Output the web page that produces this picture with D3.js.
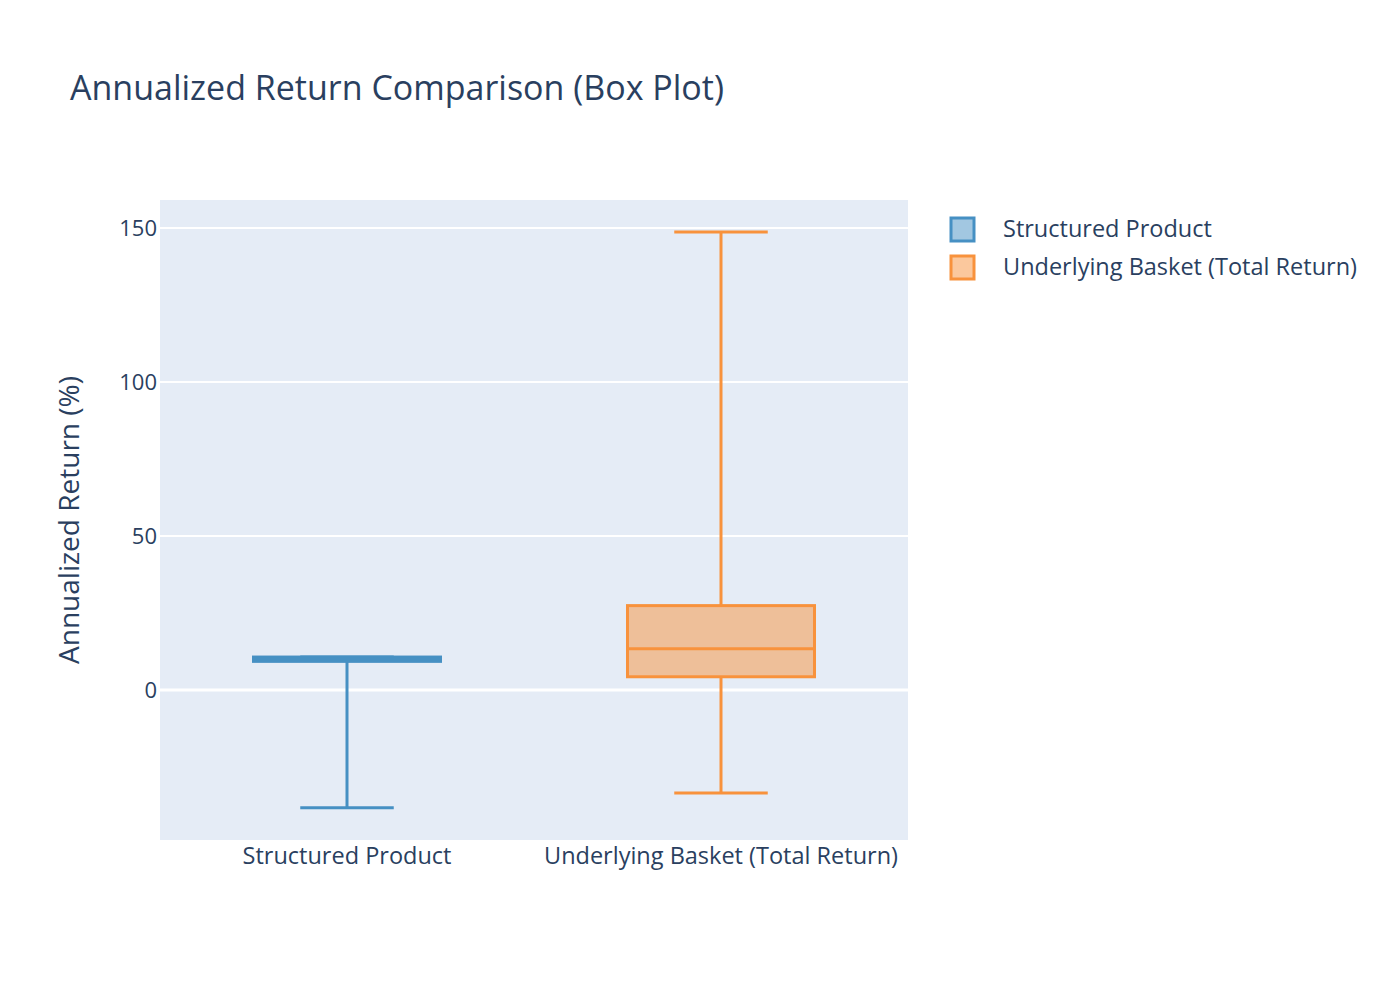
<!DOCTYPE html>
<html><head><meta charset="utf-8">
<script src="https://cdn.jsdelivr.net/npm/d3@7"></script>
<style>body{margin:0;background:#fff;} text{font-family:"Open Sans","Noto Sans",sans-serif;fill:#2a3f5f;}</style>
</head><body>
<svg id="c" width="1400" height="1000"></svg>
<script>
const categories = ["Structured Product", "Underlying Basket (Total Return)"];
const lowerWhisker = [-38.2, -33.4];
const q1 = [9.3, 4.3];
const median = [10.0, 13.4];
const q3 = [10.7, 27.4];
const upperWhisker = [10.7, 148.7];
const colors = ["#4690c3", "#f8923c"];
const yTicks = [0, 50, 100, 150];

const svg = d3.select("#c");
const M = {l:160, r:908, t:200, b:840};
const x = d3.scaleBand().domain(categories).range([M.l, M.r]);
const y = d3.scaleLinear().domain([-48.7, 159.1]).range([M.b, M.t]);

svg.append("rect").attr("x",M.l).attr("y",M.t).attr("width",M.r-M.l).attr("height",M.b-M.t).attr("fill","#e5ecf6");

// grid
svg.selectAll(".grid").data(yTicks.filter(d=>d!==0)).enter().append("line")
  .attr("x1",M.l).attr("x2",M.r).attr("y1",d=>y(d)).attr("y2",d=>y(d))
  .attr("stroke","#fff").attr("stroke-width",2);
svg.append("line").attr("x1",M.l).attr("x2",M.r).attr("y1",y(0)).attr("y2",y(0))
  .attr("stroke","#fff").attr("stroke-width",3);

// y tick labels
const yAxis = d3.axisLeft(y).tickValues(yTicks).tickSize(0).tickPadding(3);
const ga = svg.append("g").attr("transform",`translate(${M.l},0)`).call(yAxis);
ga.select(".domain").remove();
ga.selectAll("text").style("font-size","22px").attr("fill","#2a3f5f").attr("dy","0.35em");

// x tick labels
const xAxis = d3.axisBottom(x).tickSize(0).tickPadding(7);
const gx = svg.append("g").attr("transform",`translate(0,${M.b})`).call(xAxis);
gx.select(".domain").remove();
gx.selectAll("text").style("font-size","23.5px").attr("fill","#2a3f5f").attr("dy","0.71em");

// boxes
const bw = x.bandwidth()*0.5, cw = bw*0.5;
categories.forEach((c,i)=>{
  const cx = x(c)+x.bandwidth()/2;
  const g = svg.append("g");
  g.append("line").attr("x1",cx).attr("x2",cx).attr("y1",y(upperWhisker[i])).attr("y2",y(q3[i])).attr("stroke",colors[i]).attr("stroke-width",3);
  g.append("line").attr("x1",cx).attr("x2",cx).attr("y1",y(q1[i])).attr("y2",y(lowerWhisker[i])).attr("stroke",colors[i]).attr("stroke-width",3);
  [upperWhisker[i], lowerWhisker[i]].forEach(v=>{
    g.append("line").attr("x1",cx-cw/2).attr("x2",cx+cw/2).attr("y1",y(v)).attr("y2",y(v)).attr("stroke",colors[i]).attr("stroke-width",3);
  });
  g.append("rect").attr("x",cx-bw/2).attr("width",bw).attr("y",y(q3[i])).attr("height",y(q1[i])-y(q3[i]))
    .attr("fill",colors[i]).attr("fill-opacity",0.5).attr("stroke",colors[i]).attr("stroke-width",3);
  g.append("line").attr("x1",cx-bw/2).attr("x2",cx+bw/2).attr("y1",y(median[i])).attr("y2",y(median[i])).attr("stroke",colors[i]).attr("stroke-width",3);
});

// title
svg.append("text").attr("x",70).attr("y",100).text("Annualized Return Comparison (Box Plot)").style("font-size","34px");
// y title
svg.append("text").attr("transform",`translate(79,${(M.t+M.b)/2}) rotate(-90)`).attr("text-anchor","middle")
  .text("Annualized Return (%)").style("font-size","28px");

// legend
const lg = svg.append("g");
categories.forEach((c,i)=>{
  const yy = 229 + i*38;
  lg.append("rect").attr("x",951).attr("y",yy-11).attr("width",23).attr("height",23)
    .attr("fill",colors[i]).attr("fill-opacity",0.5).attr("stroke",colors[i]).attr("stroke-width",3);
  lg.append("text").attr("x",1003).attr("y",yy).attr("dy","0.35em").text(c).style("font-size","23.5px");
});
</script>
</body></html>
